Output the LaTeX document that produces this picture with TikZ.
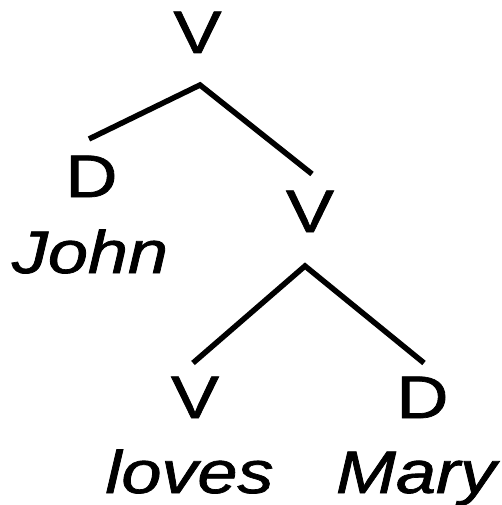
\documentclass[tikz,border=0pt]{standalone}
\usepackage{fontspec}
\setmainfont{Liberation Sans}
\begin{document}
\begin{tikzpicture}[x=1pt,y=-1pt,
  lab/.style={inner sep=0pt,anchor=base,font=\fontsize{60}{60}\selectfont},
  word/.style={lab,font=\fontsize{60}{60}\selectfont\itshape},
  branch/.style={line width=5.5pt}]
\useasboundingbox (0,0) rectangle (502,505);
\newcommand{\wide}[1]{\special{pdf:literal 2 Tr 0.7 w}\scalebox{1.2}[1]{#1}\special{pdf:literal 0 Tr}}
% labels
\node[lab] (v1) at (197.5,53) {\wide{V}};
\node[lab] (d1) at (91.5,197) {\wide{D}};
\node[word] (john) at (90,273) {\wide{John}};
\node[lab] (v2) at (310,232) {\wide{V}};
\node[lab] (v3) at (195,418) {\wide{V}};
\node[lab] (d3) at (422.5,418) {\wide{D}};
\node[word] (loves) at (189.5,493) {\wide{loves}};
\node[word] (mary) at (416,493) {\wide{Mary}};
% branch points
\coordinate (j1) at (200,85);
\coordinate (e1) at (89,139);
\coordinate (e2) at (312,174);
\coordinate (j2) at (305,266);
\coordinate (e3) at (193,363);
\coordinate (e4) at (424,363);
\draw[branch] (e1) -- (j1) -- (e2);
\draw[branch] (e3) -- (j2) -- (e4);
\end{tikzpicture}
\end{document}
